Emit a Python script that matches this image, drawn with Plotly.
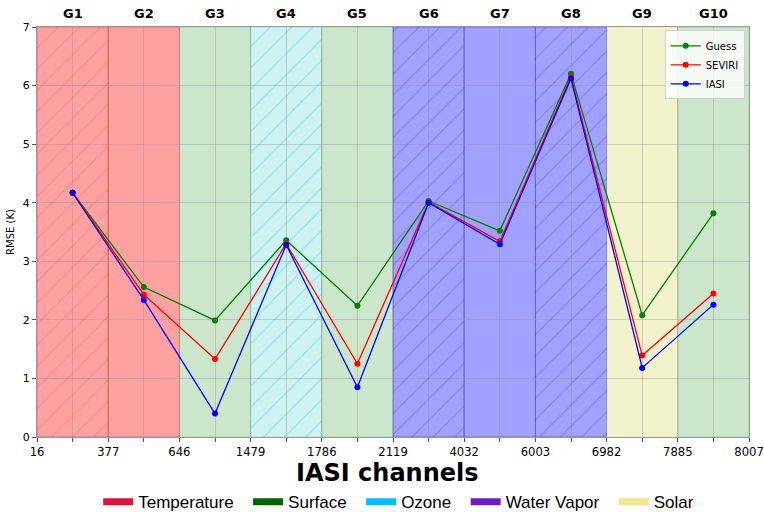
import plotly.graph_objects as go

# Channel groups and the IASI channel numbers bounding them
groups = ["G1", "G2", "G3", "G4", "G5", "G6", "G7", "G8", "G9", "G10"]
channel_edges = ["16", "377", "646", "1479", "1786", "2119", "4032", "6003", "6982", "7885", "8007"]
group_category = ["Temperature", "Temperature", "Surface", "Ozone", "Surface",
                  "Water Vapor", "Water Vapor", "Water Vapor", "Solar", "Surface"]
group_hatched = [True, False, False, True, False, True, False, True, False, False]

# RMSE (K) per group
guess = [4.17, 2.56, 1.99, 3.36, 2.24, 4.03, 3.52, 6.20, 2.08, 3.82]
seviri = [4.17, 2.43, 1.33, 3.30, 1.25, 4.01, 3.34, 6.15, 1.39, 2.45]
iasi = [4.17, 2.34, 0.40, 3.28, 0.85, 4.00, 3.29, 6.12, 1.18, 2.26]

categories = ["Temperature", "Surface", "Ozone", "Water Vapor", "Solar"]
legend_colors = ["crimson", "darkgreen", "deepskyblue", "#6E1CC6", "khaki"]
span_fill = {
    "Temperature": "rgba(255,0,0,0.37)",
    "Surface": "rgba(0,128,0,0.2)",
    "Ozone": "rgba(0,191,191,0.2)",
    "Water Vapor": "rgba(0,0,255,0.37)",
    "Solar": "rgba(191,191,0,0.2)",
}
hatch_color = {
    "Temperature": "rgba(210,40,40,0.18)",
    "Surface": "rgba(0,100,0,0.18)",
    "Ozone": "rgba(0,140,170,0.2)",
    "Water Vapor": "rgba(0,0,180,0.18)",
    "Solar": "rgba(150,150,0,0.18)",
}

Y_MAX = 7
n = len(groups)
centers = [i + 0.5 for i in range(n)]
FONT = "DejaVu Sans"
PAD = "\u00a0\u00a0"  # extra spacing between bottom legend entries

fig = go.Figure()

# Coloured background span for each group (drawn under the grid)
shapes = []
for i, cat in enumerate(group_category):
    shapes.append(dict(type="rect", xref="x", yref="y", x0=i, x1=i + 1, y0=0, y1=Y_MAX,
                       fillcolor=span_fill[cat], line=dict(color=span_fill[cat], width=1),
                       layer="below"))

# Diagonal hatching over selected groups
hx = [c for c, h in zip(centers, group_hatched) if h]
hc = [hatch_color[cat] for cat, h in zip(group_category, group_hatched) if h]
fig.add_trace(go.Bar(
    x=hx, y=[Y_MAX] * len(hx), base=0, width=1,
    marker=dict(color=hc, line=dict(width=0),
                pattern=dict(shape="/", size=15, solidity=0.08, fillmode="replace")),
    showlegend=False, hoverinfo="skip",
))

# RMSE curves
for name, vals, col in [("Guess", guess, "green"), ("SEVIRI", seviri, "red"), ("IASI", iasi, "blue")]:
    fig.add_trace(go.Scatter(
        x=centers, y=vals, mode="lines+markers", name=name,
        line=dict(color=col, width=1.3), marker=dict(color=col, size=6),
        legend="legend2",
    ))

# Category legend entries
for k, (cat, col) in enumerate(zip(categories, legend_colors)):
    label = cat + (PAD if k < len(categories) - 1 else "")
    fig.add_trace(go.Scatter(
        x=[None], y=[None], mode="lines", name=label,
        line=dict(color=col, width=7), legend="legend",
    ))

# Group labels along the top
annotations = []
for c, g in zip(centers, groups):
    annotations.append(dict(x=c, y=1, xref="x", yref="paper", yanchor="bottom",
                            yshift=4, text=f"<b>{g}</b>", showarrow=False,
                            font=dict(family=FONT, size=13, color="black")))
annotations.append(dict(x=0.4916, y=-0.087, xref="paper", yref="paper",
                        xanchor="center", yanchor="middle", text="<b>IASI channels</b>",
                        showarrow=False, font=dict(family=FONT, size=24, color="black")))

tickvals = [i * 0.5 for i in range(2 * n + 1)]
ticktext = [channel_edges[i // 2] if i % 2 == 0 else "" for i in range(2 * n + 1)]
grid = "rgba(150,150,150,0.4)"

fig.update_layout(
    width=764, height=512,
    margin=dict(l=37, r=15, t=27, b=75, autoexpand=False),
    paper_bgcolor="white", plot_bgcolor="white",
    barmode="overlay", bargap=0,
    shapes=shapes, annotations=annotations,
    font=dict(family=FONT, color="black"),
    xaxis=dict(range=[0, n], tickvals=tickvals, ticktext=ticktext,
               showgrid=True, gridcolor=grid, gridwidth=1, zeroline=False,
               ticks="outside", ticklen=4, tickcolor="#555",
               showline=True, linecolor="#999", mirror=True, automargin=False,
               ticklabeloverflow="allow",
               tickfont=dict(family=FONT, size=11.6, color="black")),
    yaxis=dict(range=[0, Y_MAX], dtick=1, showgrid=True, gridcolor=grid, gridwidth=1,
               zeroline=False, ticks="outside", ticklen=4, tickcolor="#555",
               showline=True, linecolor="#999", mirror=True, automargin=False,
               title=dict(text="RMSE (K)", font=dict(family=FONT, size=10), standoff=6),
               tickfont=dict(family=FONT, size=11, color="black")),
    legend=dict(orientation="h", x=0.508, xanchor="center", y=-0.159, yanchor="middle",
                font=dict(family="Liberation Sans", size=17, color="black"),
                bgcolor="rgba(0,0,0,0)", itemwidth=30),
    legend2=dict(x=0.994, xanchor="right", y=0.992, yanchor="top",
                 font=dict(family=FONT, size=10, color="black"), tracegroupgap=0,
                 bgcolor="rgba(255,255,255,0.8)", bordercolor="#d0d0d0", borderwidth=1),
)

fig.write_html("out.html")
